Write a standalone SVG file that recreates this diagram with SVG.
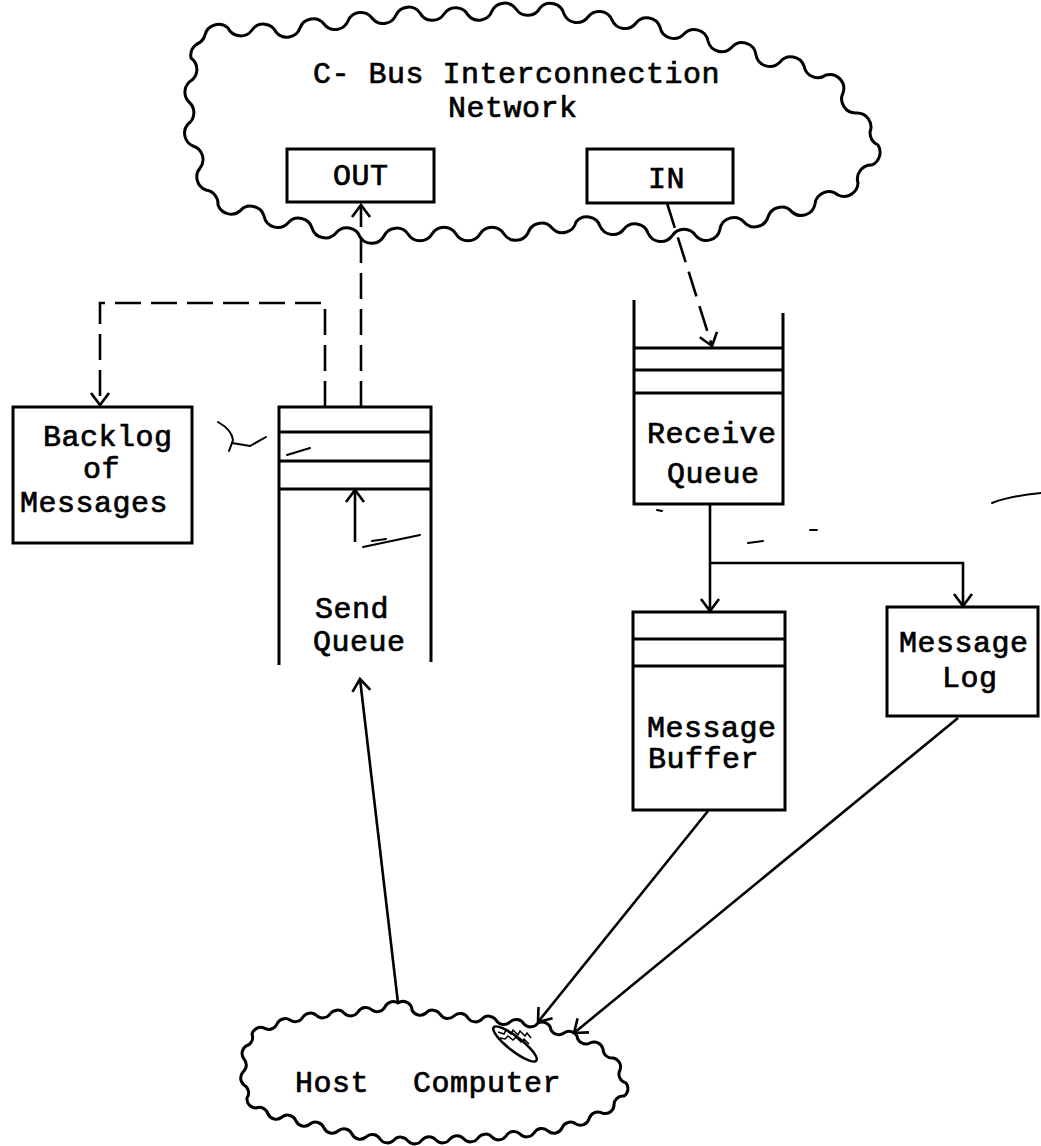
<svg xmlns="http://www.w3.org/2000/svg" width="1041" height="1146" viewBox="0 0 1041 1146">
<style>
.ln{fill:none;stroke:#000;stroke-width:3;stroke-linejoin:miter}
.cn{fill:none;stroke:#000;stroke-width:2.6}
.dash{stroke-dasharray:26 10}
.cloud{fill:none;stroke:#000;stroke-width:3;stroke-linejoin:round}
.t{font-family:"Liberation Mono","Courier New",monospace;font-size:30px;letter-spacing:0.5px;fill:#000;stroke:#000;stroke-width:0.7}
.mark{fill:none;stroke:#000;stroke-width:2;stroke-linecap:round}
</style>
<defs>
<marker id="arr" markerUnits="userSpaceOnUse" markerWidth="30" markerHeight="30" viewBox="-15 -15 30 30" refX="0" refY="0" orient="auto" overflow="visible">
<path d="M-12,-9 L0,0 L-12,9" fill="none" stroke="#000" stroke-width="2.6"/>
</marker>
</defs>
<rect width="1041" height="1146" fill="#fff"/>

<g id="network">
<path class="cloud" d="M205,35 A14,14 0 0,1 228,28 A14,14 0 0,0 252,30 A14,14 0 0,1 276,32 A14,14 0 0,0 300,28 A14,14 0 0,1 324,24 A14,14 0 0,0 348,21 A14,14 0 0,1 372,18 A14,14 0 0,0 396,15 A14,14 0 0,1 420,13 A14,14 0 0,0 444,14 A14,14 0 0,1 468,15 A14,14 0 0,0 492,11 A14,14 0 0,1 516,9 A14,14 0 0,0 540,8 A14,14 0 0,1 564,14 A14,14 0 0,0 588,17 A14,14 0 0,1 612,20 A14,14 0 0,0 636,23 A14,14 0 0,1 660,27 A14,14 0 0,0 684,34 A14,14 0 0,1 708,41 A14,14 0 0,0 732,47 A14,14 0 0,1 756,55 A14,14 0 0,0 780,62 A14,14 0 0,1 804,66 A14,14 0 0,0 826,75 A14,14 0 0,1 843,93 A14,14 0 0,0 856,113 A14,14 0 0,1 870,132 A14,14 0 0,0 878,145 A14,14 0 0,1 872,165 A14,14 0 0,0 858,183 A14,14 0 0,1 838,195 A14,14 0 0,0 815,204 A14,14 0 0,1 792,212 A14,14 0 0,0 768,217 A14,14 0 0,1 744,222 A14,14 0 0,0 720,229 A14,14 0 0,1 696,236 A14,14 0 0,0 672,236 A14,14 0 0,1 648,233 A14,14 0 0,0 624,229 A14,14 0 0,1 600,226 A14,14 0 0,0 576,222 A14,14 0 0,1 552,228 A14,14 0 0,0 528,233 A14,14 0 0,1 504,234 A14,14 0 0,0 480,234 A14,14 0 0,1 456,234 A14,14 0 0,0 432,234 A14,14 0 0,1 408,234 A14,14 0 0,0 384,236 A14,14 0 0,1 360,237 A14,14 0 0,0 336,233 A14,14 0 0,1 312,228 A14,14 0 0,0 288,223 A14,14 0 0,1 264,216 A14,14 0 0,0 240,211 A14,14 0 0,1 218,205 A14,14 0 0,0 206,190 A14,14 0 0,1 200,168 A14,14 0 0,0 193,146 A14,14 0 0,1 188,124 A14,14 0 0,0 189,102 A14,14 0 0,1 192,80 A14,14 0 0,0 191,58 A14,14 0 0,1 197,44 A14,14 0 0,0 205,35 Z"/>
<text class="t" x="313" y="83">C- Bus Interconnection</text>
<text class="t" x="448" y="117">Network</text>
</g>

<g id="out">
<rect class="ln" x="287" y="149" width="147" height="53"/>
<text class="t" x="333" y="185">OUT</text>
</g>

<g id="in">
<rect class="ln" x="587" y="149" width="146" height="54"/>
<text class="t" x="648" y="188">IN</text>
</g>

<g id="backlog">
<rect class="ln" x="13" y="407" width="179" height="136"/>
<text class="t" x="43" y="446">Backlog</text>
<text class="t" x="83" y="478">of</text>
<text class="t" x="20" y="512">Messages</text>
</g>

<g id="send-queue">
<path class="ln" d="M279,665 V407 H431 V662"/>
<path class="ln" d="M279,432 H431 M279,461 H431 M279,489 H431"/>
<text class="t" x="315" y="618">Send</text>
<text class="t" x="313" y="651">Queue</text>
</g>

<g id="receive-queue">
<path class="ln" d="M634,300 V504 H783 V313"/>
<path class="ln" d="M634,348 H783 M634,370 H783 M634,393 H783"/>
<text class="t" x="647" y="443">Receive</text>
<text class="t" x="667" y="483">Queue</text>
</g>

<g id="message-buffer">
<rect class="ln" x="633" y="612" width="152" height="198"/>
<path class="ln" d="M633,639 H785 M633,666 H785"/>
<text class="t" x="647" y="737">Message</text>
<text class="t" x="648" y="768">Buffer</text>
</g>

<g id="message-log">
<rect class="ln" x="887" y="607" width="151" height="109"/>
<text class="t" x="899" y="652">Message</text>
<text class="t" x="942" y="687">Log</text>
</g>

<g id="host">
<path class="cloud" d="M398,1003 A9,9 0 0,1 412,1010 A9,9 0 0,0 426,1013 A9,9 0 0,1 440,1014 A9,9 0 0,0 454,1016 A9,9 0 0,1 468,1018 A9,9 0 0,0 482,1019 A9,9 0 0,1 496,1020 A9,9 0 0,0 510,1022 A9,9 0 0,1 524,1024 A9,9 0 0,0 538,1023 A9,9 0 0,1 551,1030 A9,9 0 0,0 564,1033 A9,9 0 0,1 577,1036 A9,9 0 0,0 590,1043 A9,9 0 0,1 603,1049 A9,9 0 0,0 613,1058 A9,9 0 0,1 620,1070 A9,9 0 0,0 626,1083 A9,9 0 0,1 624,1096 A9,9 0 0,0 614,1106 A9,9 0 0,1 602,1113 A9,9 0 0,0 589,1119 A9,9 0 0,1 576,1124 A9,9 0 0,0 562,1128 A9,9 0 0,1 548,1131 A9,9 0 0,0 534,1133 A9,9 0 0,1 520,1134 A9,9 0 0,0 506,1136 A9,9 0 0,1 492,1137 A9,9 0 0,0 478,1138 A9,9 0 0,1 464,1139 A9,9 0 0,0 450,1139 A9,9 0 0,1 436,1140 A9,9 0 0,0 422,1140 A9,9 0 0,1 408,1141 A9,9 0 0,0 394,1140 A9,9 0 0,1 380,1139 A9,9 0 0,0 366,1137 A9,9 0 0,1 352,1134 A9,9 0 0,0 338,1131 A9,9 0 0,1 324,1128 A9,9 0 0,0 310,1124 A9,9 0 0,1 296,1121 A9,9 0 0,0 282,1117 A9,9 0 0,1 268,1114 A9,9 0 0,0 256,1108 A9,9 0 0,1 247,1098 A9,9 0 0,0 244,1085 A9,9 0 0,1 243,1072 A9,9 0 0,0 244,1059 A9,9 0 0,1 246,1046 A9,9 0 0,0 252,1034 A9,9 0 0,1 264,1028 A9,9 0 0,0 277,1024 A9,9 0 0,1 290,1020 A9,9 0 0,0 303,1017 A9,9 0 0,1 316,1015 A9,9 0 0,0 330,1014 A9,9 0 0,1 344,1013 A9,9 0 0,0 358,1012 A9,9 0 0,1 372,1010 A9,9 0 0,0 385,1007 A9,9 0 0,1 398,1003 Z"/>
<text class="t" y="1092"><tspan x="295">Host</tspan> <tspan x="413">Computer</tspan></text>
</g>

<g id="connectors">
<path class="cn dash" d="M361,407 V205" marker-end="url(#arr)"/>
<path class="cn dash" d="M325,407 V303 H100 V405" marker-end="url(#arr)"/>
<path class="cn dash" d="M667,203 L712,346" marker-end="url(#arr)"/>
<path class="cn" d="M710,504 V611" marker-end="url(#arr)"/>
<path class="cn" d="M710,563 H963 V606" marker-end="url(#arr)"/>
<path class="cn" d="M355,542 V490" marker-end="url(#arr)"/>
<path class="cn" d="M398,1003 L360,679" marker-end="url(#arr)"/>
<path class="cn" d="M708,811 L538,1022" marker-end="url(#arr)"/>
<path class="cn" d="M958,718 L574,1033" marker-end="url(#arr)"/>
</g>

<g id="marks">
<path class="mark" d="M218,422 Q232,430 233,440 L229,451 M232,443 L250,446 L266,437"/>
<path class="mark" d="M287,455 L310,448"/>
<path class="mark" d="M363,547 L420,535 M372,541 L386,539"/>
<path class="mark" d="M992,503 Q1010,496 1041,493"/>
<path class="mark" d="M748,543 L763,541 M810,530 L817,530 M657,510 L662,511"/>
<ellipse cx="515" cy="1044" rx="27" ry="7" transform="rotate(38 515 1044)" fill="#fff" stroke="#000" stroke-width="2.5"/>
<path d="M498,1032 l6,2 l2,-4 l5,4 l2,-4 l5,5 l2,-4 l5,5 l2,-3 l4,5 M500,1038 l5,1 l3,-3 l5,4 l3,-3 l5,5 l3,-3 l5,5" fill="none" stroke="#000" stroke-width="1.5"/>
</g>
</svg>
